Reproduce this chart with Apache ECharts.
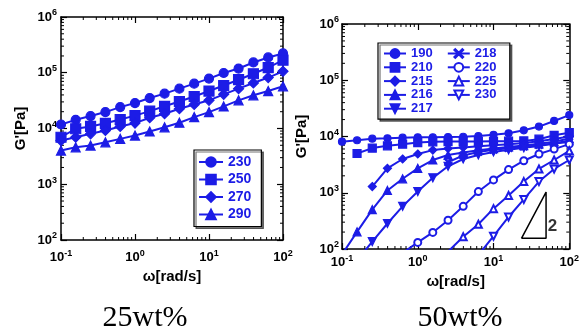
<!DOCTYPE html>
<html><head><meta charset="utf-8">
<script src="https://cdn.jsdelivr.net/npm/echarts@6/dist/echarts.min.js"></script>
<style>html,body{margin:0;padding:0;background:#fff}#c{width:582px;height:331px}</style>
</head><body><div id="c"></div>
<script>
// ---- data ----
const omega = [0.1, 0.158, 0.251, 0.398, 0.631, 1, 1.58, 2.51, 3.98, 6.31, 10, 15.8, 25.1, 39.8, 63.1, 100];
// 25wt% panel
const L230 = [11800, 14300, 16700, 19700, 24200, 28600, 35200, 42200, 51900, 63800, 78500, 99000, 119000, 153000, 188000, 222000];
const L250 = [6970, 9900, 10900, 12400, 14500, 17000, 20500, 25000, 30500, 37500, 47000, 59000, 75000, 96000, 124000, 168000];
const L270 = [6080, 6970, 8020, 9200, 10900, 12500, 15600, 18400, 22600, 27000, 32000, 41000, 51900, 65500, 82000, 106000];
const L290 = [4020, 4600, 4940, 5660, 6510, 7480, 8830, 10500, 12700, 16000, 19700, 24900, 32000, 39400, 47000, 57100];
// 50wt% panel
const R190 = [8090, 8570, 9140, 9290, 9530, 9680, 9700, 9800, 9900, 10200, 10700, 11400, 12900, 15000, 18900, 24000];
const R210 = [null, 4990, 6220, 6830, 7310, 7800, 8030, 8130, 8130, 8130, 8200, 8250, 8350, 8950, 10500, 11700];
const R215 = [null, null, 1290, 2720, 3980, 4880, 5730, 6120, 6400, 6700, 7000, 7300, 7700, 8200, 9000, 10000];
const R216 = [80, 202, 501, 1100, 1770, 2720, 3820, 4680, 5200, 5700, 6100, 6500, 6900, 7400, 8100, 9200];
const R217 = [null, 63, 135, 284, 573, 1050, 1840, 2950, 3980, 4700, 5300, 5800, 6300, 6800, 7500, 8500];
const R218 = [null, null, null, null, null, null, null, 3500, 4600, 5300, 5800, 6200, 6600, 7000, 7500, 8000];
const R220 = [null, null, null, null, 85, 131, 197, 324, 573, 1050, 1690, 2580, 3710, 4880, 5970, 7310];
const R225 = [null, null, null, null, null, null, null, 90, 165, 276, 522, 895, 1580, 2650, 3820, 5570];
const R230 = [null, null, null, null, null, null, null, null, null, 78, 169, 371, 762, 1580, 2650, 3820];
// slope-2 guide triangle (data coords) and its label
const slopeX = [23.4, 49.4, 49.4, 23.4];
const slopeY = [155, 1030, 155, 155];
const slopeLabel = [[60, 255, '2']];
// axis ranges / ticks
const xRange = [0.1, 100];
const yRange = [100, 1e6];
const xDecades = [0.1, 1, 10];
const yDecades = [100, 1000, 10000, 100000];
const captions = ['25wt%', '50wt%'];

// ---- chart ----
const BLUE = '#1c1ce6';
const pairs = v => omega.map((x, i) => [x, v[i]]).filter(p => p[1] != null);
const XSYM = 'path://M1,0L5,4L9,0L10,1L6,5L10,9L9,10L5,6L1,10L0,9L4,5L0,1Z';

function supFmt(v) {
  const e = Math.round(Math.log10(v));
  return '{b|10}{s|' + e + '}';
}
const rich = {
  b: {fontSize: 13, fontWeight: 'bold', fontFamily: 'Liberation Sans', color: '#000'},
  s: {fontSize: 9, fontWeight: 'bold', fontFamily: 'Liberation Sans', color: '#000', verticalAlign: 'top', padding: [0, 0, 8, 0]}
};
const axLine = {lineStyle: {color: '#000', width: 1.5}};
const axTick = {inside: true, length: 6, lineStyle: {color: '#000', width: 1.2}};

function xAx(grid, pos, showLabel, margin) {
  return {
    type: 'log', logBase: 10, gridIndex: grid, position: pos, min: xRange[0], max: xRange[1],
    axisLine: axLine, axisTick: axTick, splitLine: {show: false},
    axisLabel: {show: showLabel, formatter: supFmt, rich: rich, margin: margin},
    name: showLabel ? 'ω[rad/s]' : '', nameLocation: 'middle', nameGap: grid === 0 ? 28 : 19,
    nameTextStyle: {fontSize: 15, fontWeight: 'bold', fontFamily: 'Liberation Sans', color: '#000'}
  };
}
function yAx(grid, pos, showLabel) {
  return {
    type: 'log', logBase: 10, gridIndex: grid, position: pos, min: yRange[0], max: yRange[1],
    axisLine: axLine, axisTick: axTick, splitLine: {show: false},
    axisLabel: {show: showLabel, formatter: supFmt, rich: rich, margin: grid === 0 ? 4 : 3},
    name: showLabel ? "G'[Pa]" : '', nameLocation: 'middle', nameGap: 33, nameRotate: 90,
    nameTextStyle: {fontSize: 15, fontWeight: 'bold', fontFamily: 'Liberation Sans', color: '#000'}
  };
}

function minorSeries(xi, yi) {
  const data = [];
  xDecades.forEach(d => { for (let k = 2; k <= 9; k++) data.push([d * k, yRange[0], 0]); });
  yDecades.forEach(d => { for (let k = 2; k <= 9; k++) data.push([xRange[0], d * k, 1]); });
  return {
    type: 'custom', xAxisIndex: xi, yAxisIndex: yi, silent: true, data: data, clip: false, z: 1,
    renderItem(params, api) {
      const cs = params.coordSys, L = 3;
      const p = api.coord([api.value(0), api.value(1)]);
      const style = {stroke: '#000', lineWidth: 1};
      if (api.value(2) === 0) {
        return {type: 'group', children: [
          {type: 'line', shape: {x1: p[0], y1: cs.y + cs.height, x2: p[0], y2: cs.y + cs.height - L}, style},
          {type: 'line', shape: {x1: p[0], y1: cs.y, x2: p[0], y2: cs.y + L}, style}]};
      }
      return {type: 'group', children: [
        {type: 'line', shape: {x1: cs.x, y1: p[1], x2: cs.x + L, y2: p[1]}, style},
        {type: 'line', shape: {x1: cs.x + cs.width, y1: p[1], x2: cs.x + cs.width - L, y2: p[1]}, style}]};
    }
  };
}

function ser(name, vals, grid, symbol, size, extra) {
  return Object.assign({
    type: 'line', name: name, data: pairs(vals), xAxisIndex: grid * 2, yAxisIndex: grid * 2,
    symbol: symbol, symbolSize: size, showSymbol: true, clip: true,
    lineStyle: {color: BLUE, width: 2}, itemStyle: {color: BLUE, borderColor: BLUE, borderWidth: 1.2},
    emphasis: {disabled: true}, animation: false, z: 3
  }, extra || {});
}

const series = [
  ser('230', L230, 0, 'circle', 9),
  ser('250', L250, 0, 'rect', 10),
  ser('270', L270, 0, 'diamond', 10),
  ser('290', L290, 0, 'triangle', 9),
  ser('190', R190, 1, 'circle', 7),
  ser('210', R210, 1, 'rect', 8),
  ser('215', R215, 1, 'diamond', 8),
  ser('216', R216, 1, 'triangle', 8),
  ser('217', R217, 1, 'triangle', 8, {symbolRotate: 180}),
  ser('218', R218, 1, XSYM, 7),
  ser('220', R220, 1, 'emptyCircle', 7),
  ser('225', R225, 1, 'emptyTriangle', 7),
  ser('230 ', R230, 1, 'emptyTriangle', 7, {symbolRotate: 180}),
  {type: 'line', name: 'slope', data: slopeX.map((x, i) => [x, slopeY[i]]), xAxisIndex: 2, yAxisIndex: 2,
   symbol: 'none', lineStyle: {color: '#000', width: 1.5}, silent: true, animation: false, z: 2},
  {type: 'scatter', name: 'slopeLbl', data: slopeLabel, xAxisIndex: 2, yAxisIndex: 2, symbolSize: 0, silent: true,
   label: {show: true, formatter: p => p.data[2], fontSize: 17, fontWeight: 'bold', fontFamily: 'Liberation Sans', color: '#000', position: 'inside'}},
  minorSeries(0, 0),
  minorSeries(2, 2)
];

const legText = {color: BLUE, fontWeight: 'bold', fontFamily: 'Liberation Sans'};
const legBox = {backgroundColor: '#fff', borderColor: '#000', borderWidth: 1.2,
  shadowColor: 'rgba(0,0,0,0.55)', shadowOffsetX: 2, shadowOffsetY: 2, shadowBlur: 0, selectedMode: false};

const option = {
  animation: false,
  grid: [
    {left: 61, top: 17, width: 222, height: 223},
    {left: 342, top: 24, width: 228, height: 225}
  ],
  xAxis: [xAx(0, 'bottom', true, 9), xAx(0, 'top', false, 8), xAx(1, 'bottom', true, 5), xAx(1, 'top', false, 8)],
  yAxis: [yAx(0, 'left', true), yAx(0, 'right', false), yAx(1, 'left', true), yAx(1, 'right', false)],
  legend: [
    Object.assign({left: 194, top: 150, orient: 'vertical', itemWidth: 24, itemHeight: 12, itemGap: 3.5,
      padding: [5, 10, 5, 4], data: ['230', '250', '270', '290'],
      textStyle: Object.assign({fontSize: 14, lineHeight: 13}, legText)}, legBox),
    Object.assign({left: 378, top: 43, orient: 'vertical', itemWidth: 22, itemHeight: 11, itemGap: 0.8,
      height: 76, padding: [4, 0, 4, 5], data: ['190', '210', '215', '216', '217', '218', '220', '225', '230 '],
      formatter: n => n.trim(),
      textStyle: Object.assign({fontSize: 13, lineHeight: 11, width: 35}, legText)}, legBox)
  ],
  graphic: [
    {type: 'text', x: 145, y: 303, style: {text: captions[0], textAlign: 'center', font: '30px "Liberation Serif"', fill: '#000'}},
    {type: 'text', x: 460, y: 303, style: {text: captions[1], textAlign: 'center', font: '30px "Liberation Serif"', fill: '#000'}}
  ],
  series: series
};
const chart = echarts.init(document.getElementById('c'), null, {renderer: 'canvas'});
chart.setOption(option);
</script></body></html>
